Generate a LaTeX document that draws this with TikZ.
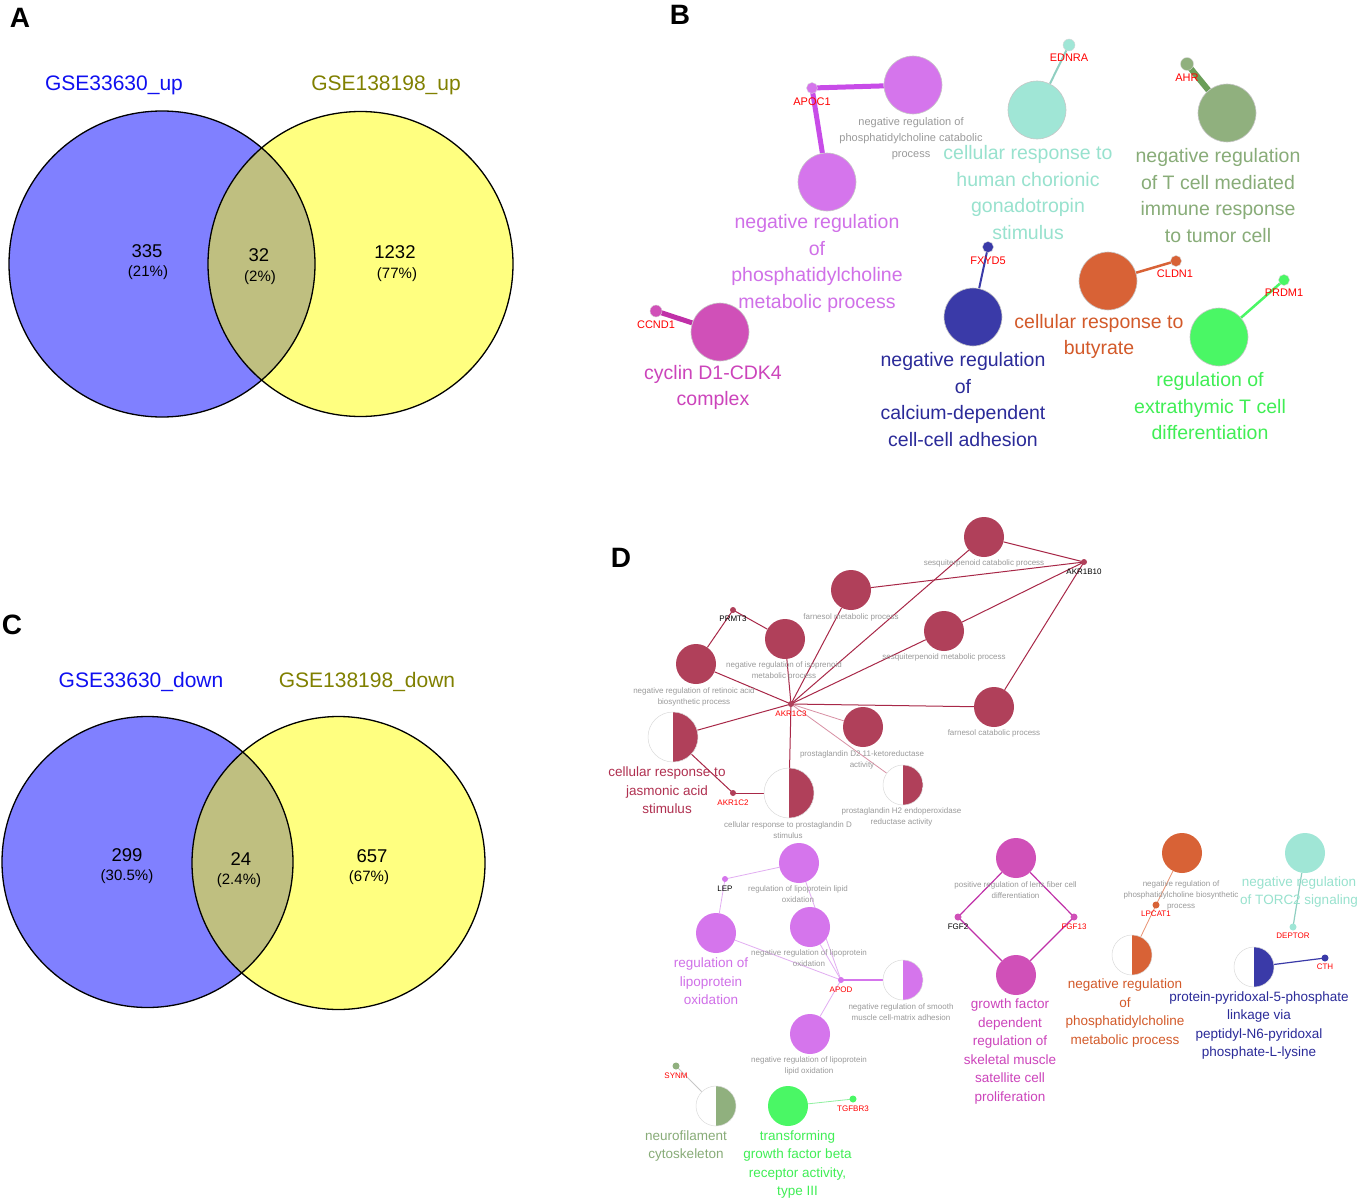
\documentclass[tikz,border=0pt]{standalone}
\usepackage{fontspec}
\setmainfont{Liberation Sans}
\pgfdeclarelayer{bg}
\pgfdeclarelayer{paper}
\pgfsetlayers{paper,bg,main}
\newcommand\myfs[2]{\fontsize{#1}{#2}\selectfont}
\definecolor{vblue}{HTML}{8080FF}
\definecolor{vyel}{HTML}{FFFF80}
\definecolor{vmid}{HTML}{BFBF80}
\definecolor{tblue}{HTML}{1010F0}
\definecolor{tolive}{HTML}{808000}
\definecolor{dredn}{HTML}{B0405A}
\definecolor{dredl}{HTML}{A82848}
\definecolor{dredt}{HTML}{B03050}
\definecolor{pinkl}{HTML}{D890A4}
\definecolor{violn}{HTML}{D575EC}
\definecolor{violt}{HTML}{D070E8}
\definecolor{violthick}{HTML}{C84CE8}
\definecolor{violl}{HTML}{E2AEF2}
\definecolor{aqn}{HTML}{A0E6D6}
\definecolor{aqt}{HTML}{98E2CE}
\definecolor{sagen}{HTML}{90B07E}
\definecolor{saget}{HTML}{88AC78}
\definecolor{sagel}{HTML}{6A9E58}
\definecolor{navn}{HTML}{3A3AA8}
\definecolor{navt}{HTML}{2B2B99}
\definecolor{magn}{HTML}{D050B8}
\definecolor{magt}{HTML}{CC44BB}
\definecolor{magl}{HTML}{C030A8}
\definecolor{orn}{HTML}{D86236}
\definecolor{ort}{HTML}{D35A2A}
\definecolor{orl}{HTML}{E89070}
\definecolor{grn}{HTML}{4AF765}
\definecolor{grt}{HTML}{40EE55}
\definecolor{grl}{HTML}{90F0A0}
\definecolor{graytxt}{HTML}{9A9A9A}
\tikzset{
 term/.style={circle, inner sep=0pt, minimum size=58pt, fill=#1, draw=black!22, line width=0.6pt},
 dterm/.style={circle, inner sep=0pt, minimum size=40pt, fill=#1},
 halfterm/.style={circle, inner sep=0pt, minimum size=40pt, fill=white, draw=black!14, line width=0.5pt,
   path picture={\fill[#1] (path picture bounding box.north) rectangle (path picture bounding box.south east);}},
 gene/.style={circle, inner sep=0pt, minimum size=7pt, fill=#1},
 bgene/.style={circle, inner sep=0pt, minimum size=12pt, fill=#1, draw=black!15, line width=0.4pt},
 glab/.style={font=\myfs{11}{13}, text=red, inner sep=0pt},
 dglab/.style={font=\myfs{8}{10}, text=#1, inner sep=0pt},
 dglab/.default=red,
 smlab/.style={font=\myfs{8}{11}, text=graytxt, align=center, inner sep=0pt},
 bsmlab/.style={font=\myfs{11}{16.3}, text=graytxt, align=center, inner sep=0pt},
 bigb/.style={font=\myfs{19.5}{26.5}, text=#1, align=center, inner sep=0pt},
 bigd/.style={font=\myfs{13.5}{18.6}, text=#1, align=center, inner sep=0pt},
 panel/.style={font=\myfs{28}{30}\bfseries, inner sep=0pt},
 vlab/.style={font=\myfs{21}{25}, inner sep=0pt, text=#1},
 vnum/.style={font=\myfs{18.5}{20}, inner sep=0pt},
 vpct/.style={font=\myfs{15}{18}, inner sep=0pt},
}
\begin{document}
\begin{tikzpicture}[x=1pt,y=-1pt]
\useasboundingbox (0,0) rectangle (1358,1199);
\begin{pgfonlayer}{paper}
\fill[white] (0,0) rectangle (1358,1199);
\end{pgfonlayer}

% ---------- panel letters
\node[panel] (pA) at (20,18) {A};
\node[panel] (pB) at (680,15) {B};
\node[panel] (pC) at (12,625) {C};
\node[panel] (pD) at (621,558) {D};

% ---------- Venn A
\fill[vblue] (162,264) circle[radius=153pt];
\fill[vyel] (360.5,264) circle[radius=152.5pt];
\begin{scope}
\clip (162,264) circle[radius=153pt];
\fill[vmid] (360.5,264) circle[radius=152.5pt];
\end{scope}
\draw[line width=1.3pt] (162,264) circle[radius=153pt];
\draw[line width=1.3pt] (360.5,264) circle[radius=152.5pt];
\node[vlab=tblue] (aL) at (114,85) {GSE33630\_up};
\node[vlab=tolive] (aR) at (386,85) {GSE138198\_up};
\node[vnum] (a1) at (147,251) {335};
\node[vpct] (a1p) at (148,273) {(21\%)};
\node[vnum] (a2) at (259,255) {32};
\node[vpct] (a2p) at (260,278) {(2\%)};
\node[vnum] (a3) at (395,252) {1232};
\node[vpct] (a3p) at (397,275) {(77\%)};

% ---------- Venn C
\fill[vblue] (147.5,862) circle[radius=145.5pt];
\fill[vyel] (338.5,863) circle[radius=146.5pt];
\begin{scope}
\clip (147.5,862) circle[radius=145.5pt];
\fill[vmid] (338.5,863) circle[radius=146.5pt];
\end{scope}
\draw[line width=1.3pt] (147.5,862) circle[radius=145.5pt];
\draw[line width=1.3pt] (338.5,863) circle[radius=146.5pt];
\node[vlab=tblue] (cL) at (141,682) {GSE33630\_down};
\node[vlab=tolive] (cR) at (367,682) {GSE138198\_down};
\node[vnum] (c1) at (127,855) {299};
\node[vpct] (c1p) at (127,877) {(30.5\%)};
\node[vnum] (c2) at (241,859) {24};
\node[vpct] (c2p) at (239,881) {(2.4\%)};
\node[vnum] (c3) at (372,856) {657};
\node[vpct] (c3p) at (369,878) {(67\%)};

% ---------- Panel B nodes
\node[bgene=violn, minimum size=11pt] (apoc) at (812,88) {};
\node[term=violn] (nrpcp) at (913,85) {};
\node[term=violn] (npm) at (827,182) {};
\node[bgene=aqn] (ednra) at (1069,45) {};
\node[term=aqn] (hcg) at (1037,110) {};
\node[bgene=sagen, minimum size=13pt] (ahr) at (1187,64) {};
\node[term=sagen] (tcell) at (1227,113) {};
\node[bgene=navn, minimum size=11pt] (fxyd) at (988,247) {};
\node[term=navn] (calc) at (973,317) {};
\node[bgene=magn] (ccnd) at (656,311) {};
\node[term=magn] (cyclin) at (720,332) {};
\node[bgene=orn, minimum size=11pt] (cldn) at (1176,261) {};
\node[term=orn] (buty) at (1108,281) {};
\node[bgene=grn, minimum size=11pt] (prdm) at (1284,280) {};
\node[term=grn] (extra) at (1219,337) {};

\begin{pgfonlayer}{bg}
\draw[violthick, line width=5pt] (apoc.center) -- (nrpcp);
\draw[violthick, line width=5pt] (apoc.center) -- (npm);
\draw[aqn!90!black, line width=2pt] (ednra.center) -- (hcg);
\draw[sagel, line width=6pt] (ahr.center) -- (tcell);
\draw[navn, line width=2pt] (fxyd.center) -- (calc);
\draw[magl, line width=5pt] (ccnd.center) -- (cyclin);
\draw[orn, line width=2.5pt] (cldn.center) -- (buty);
\draw[grn, line width=2.5pt] (prdm.center) -- (extra);
\end{pgfonlayer}

\node[glab] (lapoc) at (812,102) {APOC1};
\node[glab] (lednra) at (1069,58) {EDNRA};
\node[glab] (lahr) at (1187,78) {AHR};
\node[glab] (lfxyd) at (988,261) {FXYD5};
\node[glab] (lccnd) at (656,325) {CCND1};
\node[glab] (lcldn) at (1175,274) {CLDN1};
\node[glab] (lprdm) at (1284,293) {PRDM1};

\node[bsmlab] (lnrpcp) at (911,138.5) {negative regulation of\\phosphatidylcholine catabolic\\process};
\node[bigb=violt] (lnpm) at (817,263.5) {negative regulation\\of\\phosphatidylcholine\\metabolic process};
\node[bigb=aqt] (lhcg) at (1028,192.5) {cellular response to\\human chorionic\\gonadotropin\\stimulus};
\node[bigb=saget] (ltcell) at (1218,195.5) {negative regulation\\of T cell mediated\\immune response\\to tumor cell};
\node[bigb=navt] (lcalc) at (963,399.5) {negative regulation\\of\\calcium-dependent\\cell-cell adhesion};
\node[bigb=magt] (lcyclin) at (713,387.5) {cyclin D1-CDK4\\complex};
\node[bigb=ort] (lbuty) at (1099,336.5) {cellular response to\\butyrate};
\node[bigb=grt] (lextra) at (1210,406.5) {regulation of\\extrathymic T cell\\differentiation};

% ---------- Panel D: red cluster
\node[dterm=dredn] (sesqcat) at (984,537) {};
\node[dterm=dredn] (farmet) at (851,590) {};
\node[dterm=dredn] (sesqmet) at (944,631) {};
\node[dterm=dredn] (isop) at (785,639) {};
\node[dterm=dredn] (retin) at (696,664) {};
\node[dterm=dredn] (farcat) at (994,707) {};
\node[dterm=dredn] (pgdtwo) at (863,727) {};
\node[halfterm=dredn, minimum size=50pt] (jasm) at (673,737) {};
\node[halfterm=dredn, minimum size=50pt] (pgdstim) at (789,793) {};
\node[halfterm=dredn] (pghtwo) at (903,785) {};
\node[gene=dredn, minimum size=6pt] (akrcc) at (791,704) {};
\node[gene=dredn, minimum size=6pt] (prmt) at (733,610) {};
\node[gene=dredn, minimum size=6pt] (akrb) at (1084,562) {};
\node[gene=dredn, minimum size=6pt] (akrcb) at (733,793) {};

% violet cluster
\node[dterm=violn] (rllo) at (799,863) {};
\node[gene=violn, minimum size=6pt] (lep) at (725,879) {};
\node[dterm=violn] (rlo) at (716,933) {};
\node[dterm=violn] (nrlo) at (810,927) {};
\node[gene=violn, minimum size=6pt] (apod) at (841,980) {};
\node[halfterm=violn] (smc) at (903,980) {};
\node[dterm=violn] (nrllo) at (810,1034) {};

% magenta cluster
\node[dterm=magn] (lens) at (1016,858) {};
\node[gene=magn] (fgftwo) at (958,917) {};
\node[gene=magn] (fgfthirt) at (1074,917) {};
\node[dterm=magn] (gfd) at (1016,975) {};

% orange cluster
\node[dterm=orn] (pcbio) at (1182,853) {};
\node[gene=orn] (lpcat) at (1156,905) {};
\node[halfterm=orn] (pcmet) at (1132,955) {};

% aqua
\node[dterm=aqn] (torc) at (1305,853) {};
\node[gene=aqn] (deptor) at (1293,927) {};

% navy
\node[halfterm=navn] (ppl) at (1254,967) {};
\node[gene=navn] (cth) at (1325,958) {};

% sage / green
\node[gene=sagen] (synm) at (676,1066) {};
\node[halfterm=sagen] (neuro) at (716,1106) {};
\node[dterm=grn] (tgfb) at (788,1106) {};
\node[gene=grn] (tgfbr) at (853,1099) {};

\begin{pgfonlayer}{bg}
\begin{scope}[dredl, line width=1pt]
\draw (akrcc.center) -- (retin);
\draw (akrcc.center) -- (isop);
\draw (akrcc.center) -- (farmet);
\draw (akrcc.center) -- (sesqcat);
\draw (akrcc.center) -- (sesqmet);
\draw (akrcc.center) -- (farcat);
\draw (akrcc.center) -- (jasm);
\draw (akrcc.center) -- (pgdstim);
\draw (akrb.center) -- (sesqcat);
\draw (akrb.center) -- (farmet);
\draw (akrb.center) -- (sesqmet);
\draw (akrb.center) -- (farcat);
\draw (prmt.center) -- (retin);
\draw (prmt.center) -- (isop);
\draw (akrcb.center) -- (jasm);
\draw (akrcb.center) -- (pgdstim);
\end{scope}
\draw[pinkl, line width=0.8pt] (akrcc.center) -- (pgdtwo);
\draw[pinkl, line width=0.8pt] (akrcc.center) -- (pghtwo);
\begin{scope}[violl, line width=0.8pt]
\draw (lep.center) -- (rllo);
\draw (lep.center) -- (rlo);
\draw (apod.center) -- (rllo);
\draw (apod.center) -- (nrlo);
\draw (apod.center) -- (rlo);
\draw (apod.center) -- (nrllo);
\end{scope}
\draw[violn, line width=1.2pt] (apod.center) -- (smc);
\begin{scope}[magl, line width=1.2pt]
\draw (fgftwo.center) -- (lens);
\draw (fgftwo.center) -- (gfd);
\draw (fgfthirt.center) -- (lens);
\draw (fgfthirt.center) -- (gfd);
\end{scope}
\draw[orl, line width=0.8pt] (lpcat.center) -- (pcbio);
\draw[orl, line width=0.8pt] (lpcat.center) -- (pcmet);
\draw[aqn!90!black, line width=1.2pt] (torc) -- (deptor.center);
\draw[navn, line width=1.2pt] (ppl) -- (cth.center);
\draw[black!22, line width=1pt] (synm.center) -- (neuro);
\draw[grl, line width=0.8pt] (tgfb) -- (tgfbr.center);
\end{pgfonlayer}

% D gene labels
\node[dglab] (lakrcc) at (791,714) {AKR1C3};
\node[dglab=black] (lprmt) at (733,619) {PRMT3};
\node[dglab=black] (lakrb) at (1084,572) {AKR1B10};
\node[dglab] (lakrcb) at (733,803) {AKR1C2};
\node[dglab=black] (llep) at (725,889) {LEP};
\node[dglab] (lapod) at (841,990) {APOD};
\node[dglab=black] (lfgftwo) at (958,927) {FGF2};
\node[dglab] (lfgfthirt) at (1074,927) {FGF13};
\node[dglab] (llpcat) at (1156,914) {LPCAT1};
\node[dglab] (ldeptor) at (1293,936) {DEPTOR};
\node[dglab] (lcth) at (1325,967) {CTH};
\node[dglab] (lsynm) at (676,1076) {SYNM};
\node[dglab] (ltgfbr) at (853,1109) {TGFBR3};

% D small gray labels
\node[smlab] (lsesqcat) at (984,563) {sesquiterpenoid catabolic process};
\node[smlab] (lfarmet) at (851,617) {farnesol metabolic process};
\node[smlab] (lsesqmet) at (944,657) {sesquiterpenoid metabolic process};
\node[smlab] (lisop) at (784,670.5) {negative regulation of isoprenoid\\metabolic process};
\node[smlab] (lretin) at (694,696.5) {negative regulation of retinoic acid\\biosynthetic process};
\node[smlab] (lfarcat) at (994,733) {farnesol catabolic process};
\node[smlab] (lpgdtwo) at (862,760) {prostaglandin D2 11-ketoreductase\\activity};
\node[smlab] (lpgdstim) at (788,830.5) {cellular response to prostaglandin D\\stimulus};
\node[smlab] (lpghtwo) at (901.5,816.5) {prostaglandin H2 endoperoxidase\\reductase activity};
\node[smlab] (lrllo) at (798,894.5) {regulation of lipoprotein lipid\\oxidation};
\node[smlab] (lnrlo) at (809,958.5) {negative regulation of lipoprotein\\oxidation};
\node[smlab] (lsmc) at (901,1012) {negative regulation of smooth\\muscle cell-matrix adhesion};
\node[smlab] (lnrllo) at (809,1065.5) {negative regulation of lipoprotein\\lipid oxidation};
\node[smlab] (llens) at (1015.5,890) {positive regulation of lens fiber cell\\differentiation};
\node[smlab] (lpcbio) at (1181,895.5) {negative regulation of\\phosphatidylcholine biosynthetic\\process};

% D big labels
\node[bigd=dredt] (ljasm) at (667,790.5) {cellular response to\\jasmonic acid\\stimulus};
\node[bigd=violt] (lrlo) at (711,981.5) {regulation of\\lipoprotein\\oxidation};
\node[bigd=magt] (lgfd) at (1010,1051.5) {growth factor\\dependent\\regulation of\\skeletal muscle\\satellite cell\\proliferation};
\node[bigd=ort] (lpcmet) at (1125,1013) {negative regulation\\of\\phosphatidylcholine\\metabolic process};
\node[bigd=aqt] (ltorc) at (1299,892) {negative regulation\\of TORC2 signaling};
\node[bigd=navt] (lppl) at (1259,1025.5) {protein-pyridoxal-5-phosphate\\linkage via\\peptidyl-N6-pyridoxal\\phosphate-L-lysine};
\node[bigd=saget] (lneuro) at (686,1146) {neurofilament\\cytoskeleton};
\node[bigd=grt] (ltgfb) at (797.5,1164.5) {transforming\\growth factor beta\\receptor activity,\\type III};
\end{tikzpicture}
\end{document}
